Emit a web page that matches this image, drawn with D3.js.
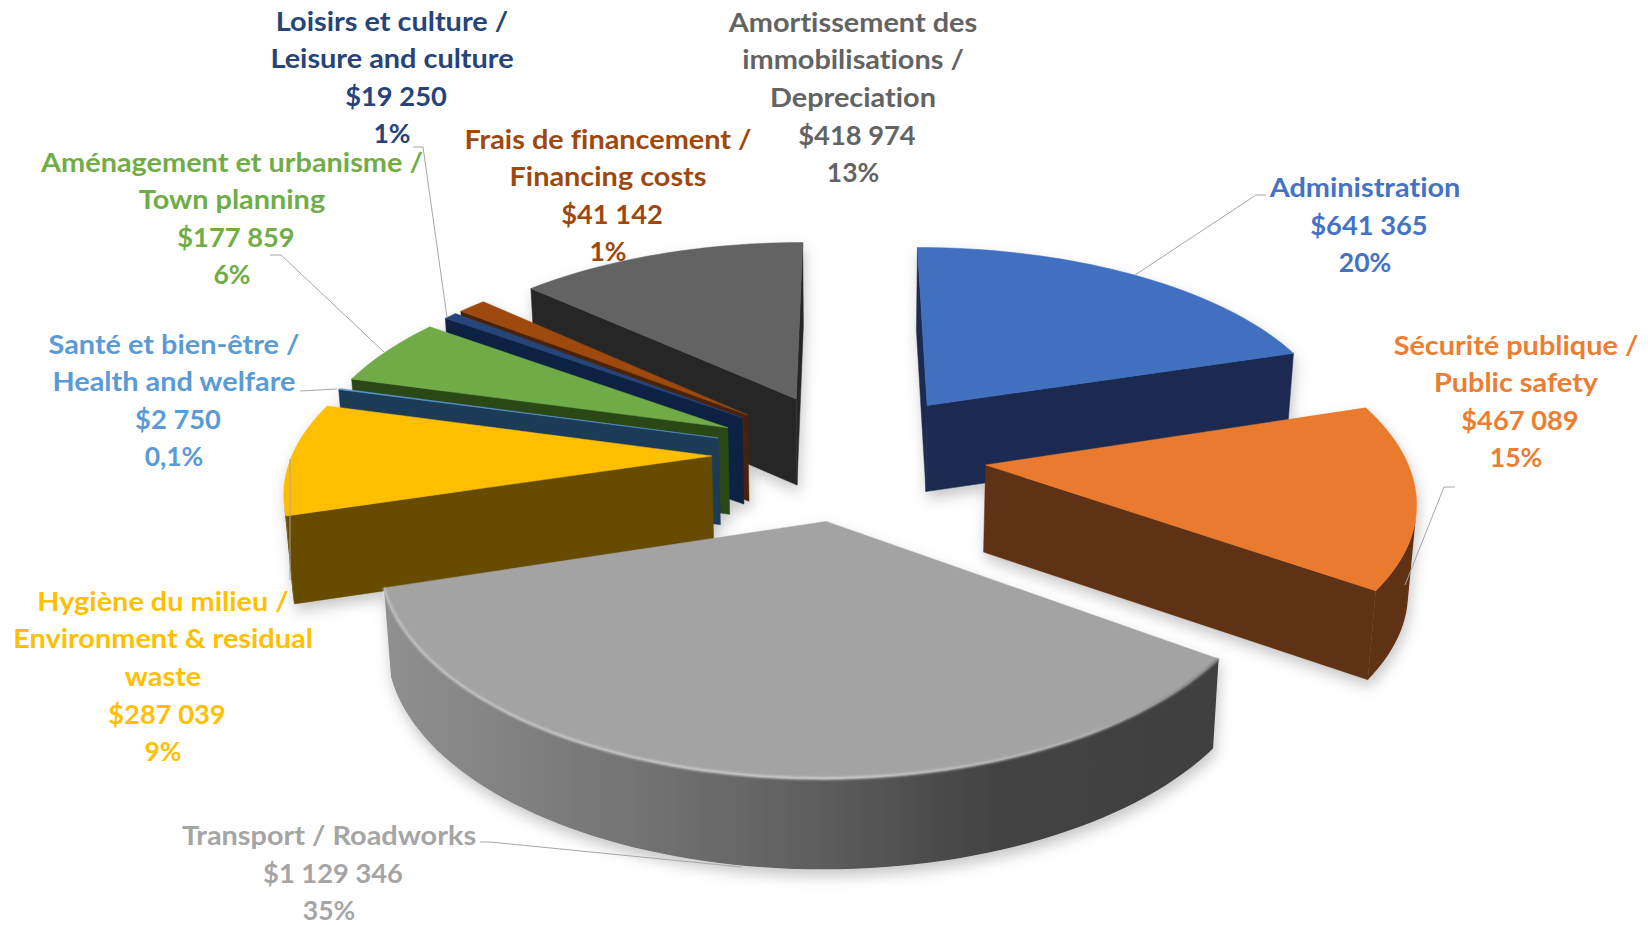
<!DOCTYPE html>
<html>
<head>
<meta charset="utf-8">
<style>
  body { margin: 0; background: #fff; }
  svg { display: block; }
  text { font-family: Lato, "Open Sans", sans-serif; font-weight: 700; font-variant-ligatures: none; }
</style>
<script src="https://cdn.jsdelivr.net/npm/d3@7"></script>
</head>
<body>
<div id="chart"></div>
<script>
// chart data
const categories = [
  ['Administration'],
  ['Sécurité publique /', 'Public safety'],
  ['Transport / Roadworks'],
  ['Hygiène du milieu /', 'Environment & residual', 'waste'],
  ['Santé et bien-être /', 'Health and welfare'],
  ['Aménagement et urbanisme /', 'Town planning'],
  ['Loisirs et culture /', 'Leisure and culture'],
  ['Frais de financement /', 'Financing costs'],
  ['Amortissement des', 'immobilisations /', 'Depreciation']
];
const values = [641365, 467089, 1129346, 287039, 2750, 177859, 19250, 41142, 418974];
const percents = ['20%', '15%', '35%', '9%', '0,1%', '6%', '1%', '1%', '13%'];

const topColors = ['#4170bf', '#ea7a2e', '#a3a3a3', '#fdbf00', '#5b9bd5', '#6fab46', '#264478', '#9e480e', '#636363'];
const sideColors = ['#1a2c51', '#5f3012', '#5f5f5f', '#664c00', '#1f3b57', '#2c4619', '#0d2042', '#4a2207', '#282828'];
const labelColors = ['#4472c4', '#ed7d31', '#a5a5a5', '#ffc000', '#5b9bd5', '#70ad47', '#264478', '#9e480e', '#636363'];

// label layout: centre x and y of the first line
const labelAnchors = [[1365, 187], [1516, 345], [329, 835], [163, 601], [174, 344], [232, 162], [392, 21], [608, 139], [853, 22]];
const lineStep = 37.4;

// leader lines
const leaders = [
  [[1266, 195], [1256, 195], [1135, 275]],
  [[1455, 487], [1444, 487], [1405, 585]],
  [[480, 842], [490, 842], [742, 867]],
  [[290, 459], [290, 580]],
  [[300, 391], [337, 389]],
  [[270, 255], [281, 255], [384, 352]],
  [[413, 147], [423, 147], [447, 317]]
];

const width = 1648;
const height = 925;

// projection of the tilted pie plane
const cx = 849;
const cy = 455;
const explode = 140;
const radius = 428;
const squash = 0.457;
const perspY = 0.000353;
const perspX = 0.00035;
const depth = 87;

function project(x, y, bottom) {
  let sx = x / (1.02 + perspX * y);
  let sy = -squash * y / (1 + perspY * y);
  if (bottom) {
    sx *= 0.985;
    sy += depth * (1 - 0.00008 * y);
  }
  return [cx + sx, cy + sy];
}

const svg = d3.select('#chart')
  .append('svg')
  .attr('width', width)
  .attr('height', height)
  .attr('viewBox', `0 0 ${width} ${height}`);

const defs = svg.append('defs');

const shadow = defs.append('filter')
  .attr('id', 'softShadow')
  .attr('x', '-10%').attr('y', '-10%')
  .attr('width', '120%').attr('height', '125%');
shadow.append('feDropShadow')
  .attr('dx', 2).attr('dy', 7)
  .attr('stdDeviation', 7)
  .attr('flood-color', '#000')
  .attr('flood-opacity', 0.22);

defs.append('filter').attr('id', 'rimBlur')
  .append('feGaussianBlur').attr('stdDeviation', 1.1);

// transport wall gets lighter to the left
const wallGrad = defs.append('linearGradient').attr('id', 'transportWall');
[[0, '#909090'], [0.5, '#606060'], [0.73, '#434343'], [1, '#404040']].forEach(s => {
  wallGrad.append('stop').attr('offset', s[0]).attr('stop-color', s[1]);
});
const rimGrad = defs.append('linearGradient').attr('id', 'transportRim');
[[0, '#c4c4c4'], [0.55, '#d2d2d2'], [0.85, '#b0b0b0'], [1, '#7a7a7a']].forEach(s => {
  rimGrad.append('stop').attr('offset', s[0]).attr('stop-color', s[1]);
});

const pie = d3.pie().sort(null).value(d => d);
const arcs = pie(values);

const line = d3.line();

function sliceGeometry(d) {
  const mid = (d.startAngle + d.endAngle) / 2;
  const ox = explode * Math.sin(mid);
  const oy = explode * Math.cos(mid);
  const steps = Math.max(2, Math.ceil((d.endAngle - d.startAngle) / 0.03));
  const rim = d3.range(steps + 1).map(i => {
    const a = d.startAngle + (d.endAngle - d.startAngle) * i / steps;
    return [ox + radius * Math.sin(a), oy + radius * Math.cos(a)];
  });
  return { apex: [ox, oy], rim };
}

// >0 means the wall under this edge faces the viewer
function facing(p, q) {
  const a = project(p[0], p[1], false);
  const b = project(q[0], q[1], false);
  const c = project(q[0], q[1], true);
  const e = project(p[0], p[1], true);
  return d3.polygonArea([a, b, c, e]);
}

function wallPath(points) {
  const top = points.map(p => project(p[0], p[1], false));
  const bottom = points.map(p => project(p[0], p[1], true)).reverse();
  return line(top.concat(bottom)) + 'Z';
}

const pieG = svg.append('g').attr('filter', 'url(#softShadow)');

// painter's order, back to front
const drawOrder = [0, 8, 7, 6, 5, 4, 3, 1, 2];

drawOrder.forEach(i => {
  const geo = sliceGeometry(arcs[i]);
  const g = pieG.append('g');
  const first = geo.rim[0];
  const last = geo.rim[geo.rim.length - 1];

  // radial walls, edges taken in the order of the top outline
  [[geo.apex, first], [last, geo.apex]].forEach(e => {
    if (facing(e[0], e[1]) > 0) {
      g.append('path')
        .attr('d', wallPath(e))
        .attr('fill', sideColors[i])
        .attr('stroke', sideColors[i])
        .attr('stroke-width', 0.5);
    }
  });

  // curved wall, only the part turned to the front
  const front = geo.rim.filter((p, k) => {
    const q = geo.rim[k + 1] || null;
    const prev = geo.rim[k - 1] || null;
    return (q && facing(p, q) > 0) || (prev && facing(prev, p) > 0);
  });
  if (front.length > 1) {
    g.append('path')
      .attr('d', wallPath(front))
      .attr('fill', i === 2 ? 'url(#transportWall)' : sideColors[i]);
  }

  // top face
  const outline = [geo.apex].concat(geo.rim).map(p => project(p[0], p[1], false));
  g.append('path')
    .attr('d', line(outline) + 'Z')
    .attr('fill', topColors[i])
    .attr('stroke', topColors[i])
    .attr('stroke-width', 0.5);

  if (i === 2) {
    g.append('path')
      .attr('d', line(geo.rim.map(p => project(p[0], p[1], false))))
      .attr('fill', 'none')
      .attr('stroke', 'url(#transportRim)')
      .attr('stroke-width', 2.5)
      .attr('filter', 'url(#rimBlur)');
  }
});

// leaders
svg.append('g').selectAll('path')
  .data(leaders)
  .enter()
  .append('path')
  .attr('d', d => line(d))
  .attr('fill', 'none')
  .attr('stroke', '#a6a6a6')
  .attr('stroke-width', 1);

// labels
const money = d3.formatLocale({ decimal: ',', thousands: ' ', grouping: [3], currency: ['$', ''] }).format('$,');

// Calibri runs wider than Lato at the same height, so stretch the word rows
const labelRows = categories.flatMap((names, i) => {
  const rows = names.map(t => ({ text: t, stretch: 1.09, dx: 0 }));
  rows.push({ text: money(values[i]), stretch: 1.03, dx: 4 });
  rows.push({ text: percents[i], stretch: 1, dx: 0 });
  return rows.map((r, k) => ({ ...r, i, k }));
});

svg.append('g').selectAll('text')
  .data(labelRows)
  .enter()
  .append('text')
  .attr('transform', d => `translate(${labelAnchors[d.i][0] + d.dx},${labelAnchors[d.i][1] + d.k * lineStep}) scale(${d.stretch},1)`)
  .attr('text-anchor', 'middle')
  .attr('dominant-baseline', 'central')
  .attr('font-size', 26.5)
  .attr('fill', d => labelColors[d.i])
  .text(d => d.text);
</script>
</body>
</html>
